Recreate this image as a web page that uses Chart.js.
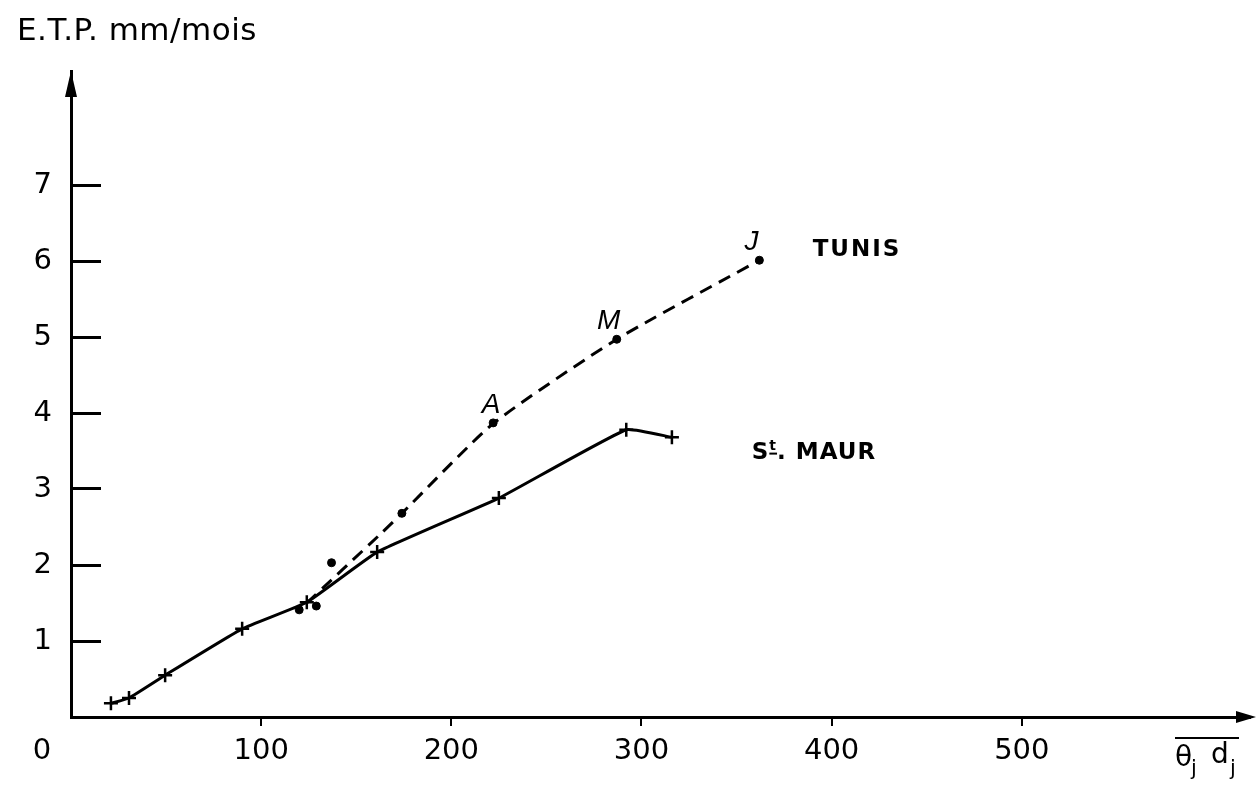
<!DOCTYPE html>
<html><head><meta charset="utf-8">
<script src="https://cdn.jsdelivr.net/npm/chart.js@4/dist/chart.umd.min.js"></script>
<style>html,body{margin:0;padding:0;background:#fff}</style>
</head><body>
<canvas id="c" width="1260" height="789"></canvas>
<script>
// ---- data ----
const stMaurX = [21, 30.5, 49.5, 90, 124, 161, 225, 292, 316];
const stMaurY = [0.18, 0.25, 0.55, 1.16, 1.51, 2.17, 2.88, 3.78, 3.68];
const tunisX = [120, 129, 137, 174, 222, 287, 362];
const tunisY = [1.41, 1.46, 2.03, 2.68, 3.87, 4.97, 6.01];
const tunisCurveX = [124, 162, 174, 222, 287, 362];
const tunisCurveY = [1.5, 2.39, 2.68, 3.86, 4.97, 6.01];
const monthText = ['A', 'M', 'J'];
const monthX = [222, 287, 362];
const monthY = [3.87, 4.97, 6.01];
const xTicks = [0, 100, 200, 300, 400, 500];
const yTicks = [1, 2, 3, 4, 5, 6, 7];

const toPts = (xs, ys) => xs.map((v, i) => ({x: v, y: ys[i]}));

const deco = {
  id: 'deco',
  afterDraw(chart) {
    const {ctx, chartArea: a, scales: {x, y}} = chart;
    ctx.save();
    ctx.fillStyle = '#000';
    ctx.strokeStyle = '#000';
    // axis arrowheads
    ctx.beginPath();
    ctx.moveTo(a.left, a.top);
    ctx.lineTo(a.left - 6, a.top + 26);
    ctx.lineTo(a.left + 6, a.top + 26);
    ctx.closePath(); ctx.fill();
    ctx.beginPath();
    ctx.moveTo(a.right + 6, a.bottom);
    ctx.lineTo(a.right - 14, a.bottom - 6);
    ctx.lineTo(a.right - 14, a.bottom + 6);
    ctx.closePath(); ctx.fill();
    // y title
    ctx.textAlign = 'left'; ctx.textBaseline = 'alphabetic';
    ctx.font = '31px "DejaVu Sans"';
    ctx.letterSpacing = '0.5px';
    ctx.fillText('E.T.P. mm/mois', 17, 40);
    ctx.letterSpacing = '0px';
    // month labels
    ctx.font = 'italic 28px "Liberation Sans"';
    ctx.textAlign = 'center';
    monthText.forEach((t, i) => {
      const px = x.getPixelForValue(monthX[i]);
      const py = y.getPixelForValue(monthY[i]);
      ctx.fillText(t, px - (i === 0 ? 2 : 8), py - 10);
    });
    // series names
    ctx.textAlign = 'left';
    ctx.font = 'bold 23px "DejaVu Sans"';
    ctx.letterSpacing = '2px';
    ctx.fillText('TUNIS', x.getPixelForValue(390), y.getPixelForValue(6.06));
    const sx = x.getPixelForValue(358), sy = y.getPixelForValue(3.4);
    ctx.letterSpacing = '1px';
    ctx.fillText('S', sx, sy);
    let w = ctx.measureText('S').width;
    ctx.font = 'bold 14px "DejaVu Sans"';
    ctx.letterSpacing = '0px';
    ctx.fillText('t', sx + w, sy - 9);
    const tw = ctx.measureText('t').width;
    ctx.fillRect(sx + w, sy - 6, tw + 1, 2);
    ctx.font = 'bold 23px "DejaVu Sans"';
    ctx.letterSpacing = '1px';
    ctx.fillText('. MAUR', sx + w + tw + 1, sy);
    ctx.letterSpacing = '0px';
    // x title
    const rx = a.right;
    ctx.fillRect(rx - 75, a.bottom + 20, 64, 2);
    ctx.font = '28px "DejaVu Sans"';
    ctx.fillText('\u03b8', rx - 75, a.bottom + 49);
    ctx.font = '21px "DejaVu Sans"';
    ctx.fillText('j', rx - 59, a.bottom + 58);
    ctx.font = '28px "DejaVu Sans"';
    ctx.fillText('d', rx - 39, a.bottom + 46);
    ctx.font = '21px "DejaVu Sans"';
    ctx.fillText('j', rx - 20, a.bottom + 58);
    ctx.restore();
  }
};

new Chart(document.getElementById('c'), {
  type: 'scatter',
  data: {
    datasets: [
      {
        label: 'St. MAUR',
        data: toPts(stMaurX, stMaurY),
        showLine: true,
        borderColor: '#000',
        borderWidth: 3,
        tension: 0.12,
        pointStyle: 'cross',
        pointRadius: 7,
        pointBorderWidth: 2.5,
        pointBorderColor: '#000',
        pointBackgroundColor: '#000'
      },
      {
        label: 'TUNIS curve',
        data: toPts(tunisCurveX, tunisCurveY),
        showLine: true,
        borderColor: '#000',
        borderWidth: 3,
        borderDash: [13, 8],
        tension: 0.2,
        pointRadius: 0
      },
      {
        label: 'TUNIS',
        data: toPts(tunisX, tunisY),
        showLine: false,
        pointStyle: 'circle',
        pointRadius: 4,
        pointBackgroundColor: '#000',
        pointBorderColor: '#000'
      }
    ]
  },
  options: {
    responsive: false,
    animation: false,
    devicePixelRatio: 1,
    layout: {padding: {left: 34, right: 10, top: 71, bottom: 18}},
    plugins: {legend: {display: false}, tooltip: {enabled: false}, title: {display: false}},
    scales: {
      x: {
        type: 'linear', min: 0, max: 620,
        afterBuildTicks: s => { s.ticks = xTicks.map(v => ({value: v})); },
        afterFit: s => { s.height = 54; },
        grid: {
          display: true, drawOnChartArea: false, drawTicks: true, tickLength: 9, lineWidth: 2,
          color: c => (c.tick && c.tick.value === 0) ? 'rgba(0,0,0,0)' : '#000'
        },
        border: {display: true, color: '#000', width: 3},
        ticks: {
          color: '#000', font: {family: 'DejaVu Sans', size: 29}, padding: 8,
          maxRotation: 0, autoSkip: false,
          callback: v => v === 0 ? '0\u2003\u2003' : String(v)
        }
      },
      y: {
        type: 'linear', min: 0, max: 8.5,
        afterBuildTicks: s => { s.ticks = yTicks.map(v => ({value: v})); },
        afterFit: s => { s.width = 37; },
        grid: {display: true, drawOnChartArea: false, drawTicks: true, tickLength: -30, lineWidth: 3, color: '#000'},
        border: {display: true, color: '#000', width: 3},
        ticks: {color: '#000', font: {family: 'DejaVu Sans', size: 29}, padding: 49, autoSkip: false}
      }
    }
  },
  plugins: [deco]
});
</script>
</body></html>
